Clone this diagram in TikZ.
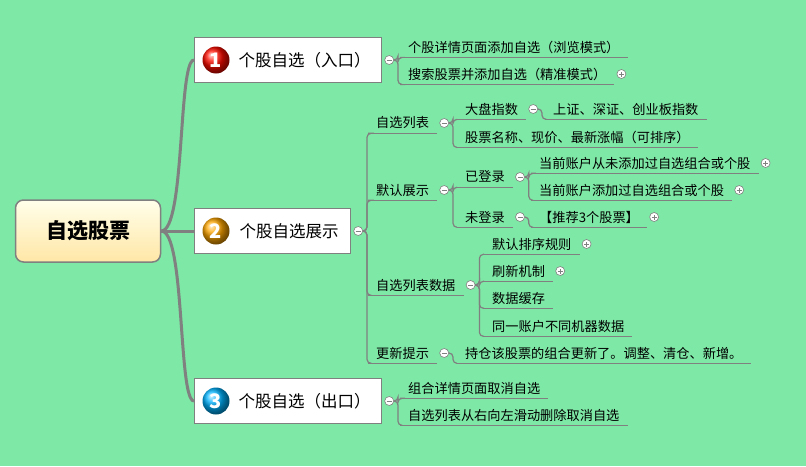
\documentclass[tikz,border=0pt]{standalone}
\usepackage{fontspec}
\setmainfont{Noto Sans CJK SC}
\usetikzlibrary{calc}
\definecolor{bg}{RGB}{126,232,166}
\definecolor{ln}{RGB}{128,128,128}
\tikzset{
 leaf/.style={anchor=west,inner xsep=8pt,inner ysep=4pt,font=\fontsize{13.2}{14}\selectfont},
 uline/.style={draw=ln,line width=1.2pt},
 conn/.style={draw=ln,line width=1.2pt,rounded corners=4pt},
 tgbase/.style={circle,draw=ln,fill=white,minimum size=9pt,inner sep=0pt,line width=0.6pt},
 tgm/.style={tgbase,path picture={\draw[ln,line width=0.8pt] ([xshift=-2.5pt]path picture bounding box.center)--([xshift=2.5pt]path picture bounding box.center);}},
 tgp/.style={tgbase,path picture={\draw[ln,line width=0.8pt] ([xshift=-2.5pt]path picture bounding box.center)--([xshift=2.5pt]path picture bounding box.center) ([yshift=-2.5pt]path picture bounding box.center)--([yshift=2.5pt]path picture bounding box.center);}},
 lvl/.style={draw=ln,fill=white,line width=1.2pt,anchor=west,minimum height=45pt,inner xsep=10pt,font=\fontsize{16.5}{18}\selectfont},
 icon/.style={circle,minimum size=27pt,inner sep=0pt,text=white,font=\fontsize{20}{20}\selectfont\rmfamily\bfseries},
 main/.style={draw=ln,line width=3pt},
}
\newcommand\lf[4]{\node[leaf] (#1) at (#2,#3) {#4};\draw[uline] (#1.south west)--(#1.south east);}
\newcommand\tm[1]{\node[tgm] (#1t) at ([xshift=7pt]#1.east) {};}
\newcommand\tp[1]{\node[tgp] (#1t) at ([xshift=7pt]#1.east) {};}
\newcommand\cn[2]{\draw[conn] (#1t.east) -- ++(4pt,0) |- (#2.south west);}
\begin{document}
\begin{tikzpicture}[x=1pt,y=-1pt]
\fill[bg] (0,0) rectangle (806,466);
\useasboundingbox (0,0) rectangle (806,466);
% root
\node[draw=ln,line width=1.5pt,rounded corners=8pt,top color=yellow!8!white,bottom color=yellow!45!orange!35!white,minimum width=145pt,minimum height=62pt,font=\fontsize{21}{24}\selectfont\bfseries] (root) at (88,231) {自选股票};
% level 1
\node[lvl,minimum width=187pt] (n1) at (194,60) {\hspace*{33pt}个股自选（入口）};
\node[lvl,minimum width=156pt] (n2) at (194,231) {\hspace*{33pt}个股自选展示};
\node[lvl,minimum width=187pt] (n3) at (194,401) {\hspace*{33pt}个股自选（出口）};
\node[icon,ball color=red!90!orange] (i1) at ([xshift=22pt]n1.west) {1};
\node[icon,ball color=orange!70!yellow] (i2) at ([xshift=22pt]n2.west) {2};
\node[icon,ball color=cyan!70!blue] (i3) at ([xshift=22pt]n3.west) {3};
\foreach \n in {n1,n2,n3}{\draw[main] (root.east) .. controls +(24,0) and +(-16,0) .. (\n.west);}
\tm{n1}\tm{n2}\tm{n3}
% node 1
\lf{aa}{400}{47}{个股详情页面添加自选（浏览模式）}
\lf{ab}{400}{74}{搜索股票并添加自选（精准模式）}\tp{ab}
\cn{n1}{aa}\cn{n1}{ab}
% node 2
\lf{ba}{368}{123}{自选列表}\tm{ba}
\lf{bb}{368}{190}{默认展示}\tm{bb}
\lf{bc}{368}{285}{自选列表数据}\tm{bc}
\lf{bd}{368}{353}{更新提示}\tm{bd}
\cn{n2}{ba}\cn{n2}{bb}\cn{n2}{bc}\cn{n2}{bd}
\lf{ca}{457}{109}{大盘指数}\tm{ca}
\lf{cb}{457}{137}{股票名称、现价、最新涨幅（可排序）}
\cn{ba}{ca}\cn{ba}{cb}
\lf{da}{545}{109}{上证、深证、创业板指数}
\cn{ca}{da}
\lf{cc}{457}{177}{已登录}\tm{cc}
\lf{cd}{457}{217}{未登录}\tm{cd}
\cn{bb}{cc}\cn{bb}{cd}
\lf{db}{531}{163}{当前账户从未添加过自选组合或个股}\tp{db}
\lf{dc}{531}{190}{当前账户添加过自选组合或个股}\tp{dc}
\cn{cc}{db}\cn{cc}{dc}
\lf{dd}{531}{217}{【推荐3个股票】}\tp{dd}
\cn{cd}{dd}
\lf{ce}{484}{244}{默认排序规则}\tp{ce}
\lf{cf}{484}{271}{刷新机制}\tp{cf}
\lf{cg}{484}{298}{数据缓存}
\lf{ch}{484}{326}{同一账户不同机器数据}
\cn{bc}{ce}\cn{bc}{cf}\cn{bc}{cg}\cn{bc}{ch}
\lf{ci}{457}{353}{持仓该股票的组合更新了。调整、清仓、新增。}
\cn{bd}{ci}
% node 3
\lf{ea}{400}{388}{组合详情页面取消自选}
\lf{eb}{400}{415}{自选列表从右向左滑动删除取消自选}
\cn{n3}{ea}\cn{n3}{eb}
\end{tikzpicture}
\end{document}
